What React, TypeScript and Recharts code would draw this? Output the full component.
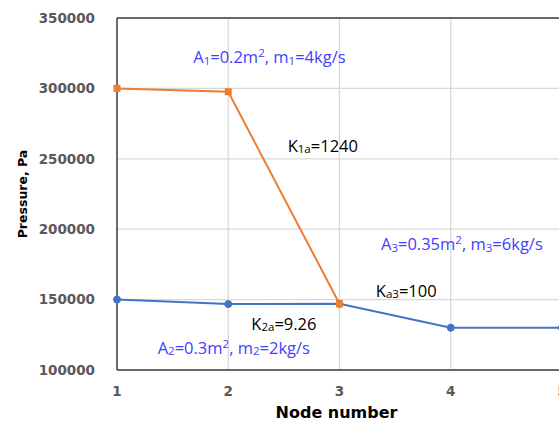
import { LineChart, Line, XAxis, YAxis, CartesianGrid, ReferenceLine, ReferenceDot } from "recharts";

const nodes = [1, 2, 3, 4, 5];
const highPressure = [300000, 297600, 147000, null, null];
const lowPressure = [150000, 146800, 147000, 130000, 130000];
const yTicks = [100000, 150000, 200000, 250000, 300000, 350000];

// annotation text: _{..} = subscript, ^{..} = superscript
const noteText = [
  "A_{1}=0.2m^{2}, m_{1}=4kg/s",
  "K_{1a}=1240",
  "A_{3}=0.35m^{2}, m_{3}=6kg/s",
  "K_{a3}=100",
  "K_{2a}=9.26",
  "A_{2}=0.3m^{2}, m_{2}=2kg/s",
];
const noteNode = [2.37, 2.85, 4.1, 3.6, 2.5, 2.05];
const notePressure = [323000, 260000, 190000, 157000, 133600, 116600];
const noteColor = ["#3f3fff", "#000000", "#3f3fff", "#000000", "#000000", "#3f3fff"];

const data = nodes.map((n, i) => ({ node: n, high: highPressure[i], low: lowPressure[i] }));

const ORANGE = "#ED7D31";
const BLUE = "#4472C4";
const AXIS = "#404040";
const TICK_FONT = "'DejaVu Sans', Verdana, sans-serif";
const NOTE_FONT = "'Open Sans', 'Liberation Sans', sans-serif";
const NOTE_SIZE = 16.5;

function parseParts(s: string) {
  const parts: { t: string; kind: "n" | "sub" | "sup" }[] = [];
  let i = 0;
  let buf = "";
  while (i < s.length) {
    const c = s[i];
    if ((c === "_" || c === "^") && s[i + 1] === "{") {
      if (buf) parts.push({ t: buf, kind: "n" });
      buf = "";
      const end = s.indexOf("}", i);
      parts.push({ t: s.slice(i + 2, end), kind: c === "_" ? "sub" : "sup" });
      i = end + 1;
    } else {
      buf += c;
      i++;
    }
  }
  if (buf) parts.push({ t: buf, kind: "n" });
  return parts;
}

function NoteLabel({ viewBox, text, color }: any) {
  if (!viewBox) return null;
  const cx = viewBox.x + viewBox.width / 2;
  const cy = viewBox.y + viewBox.height / 2;
  const parts = parseParts(text);
  let shift = 0;
  return (
    <text x={cx} y={cy} textAnchor="middle" dominantBaseline="central" fill={color} fontFamily={NOTE_FONT} fontSize={NOTE_SIZE}>
      {parts.map((p, i) => {
        const target = p.kind === "sub" ? 3.5 : p.kind === "sup" ? -4 : 0;
        const dy = target - shift;
        shift = target;
        return (
          <tspan key={i} dy={dy} fontSize={p.kind === "n" ? NOTE_SIZE : 11.5}>
            {p.t}
          </tspan>
        );
      })}
    </text>
  );
}

function YTitle({ viewBox }: any) {
  if (!viewBox) return null;
  const x = viewBox.x + 22;
  const y = viewBox.y + viewBox.height / 2;
  return (
    <text x={x} y={y} transform={`rotate(-90, ${x}, ${y})`} textAnchor="middle" dominantBaseline="central" fontFamily={TICK_FONT} fontWeight="bold" fontSize={12.5} fill="#000">
      Pressure, Pa
    </text>
  );
}

function XTitle({ viewBox }: any) {
  if (!viewBox) return null;
  return (
    <text x={viewBox.x + viewBox.width / 2 - 3} y={viewBox.y + 42} textAnchor="middle" dominantBaseline="central" fontFamily={TICK_FONT} fontWeight="bold" fontSize={16} fill="#000">
      Node number
    </text>
  );
}

function SquareDot({ cx, cy }: any) {
  if (cx == null || cy == null) return null;
  return <rect x={cx - 3.5} y={cy - 3.5} width={7} height={7} fill={ORANGE} />;
}

export default function App() {
  const tickStyle = { fill: "#595959", fontFamily: TICK_FONT, fontWeight: "bold", fontSize: 13.5 };
  return (
    <div style={{ position: "absolute", left: 0, top: 0, width: 559, height: 421, overflow: "hidden", background: "#fff" }}>
      <LineChart width={585} height={421} data={data} margin={{ top: 18, right: 23, left: 0, bottom: 0 }}>
        <CartesianGrid stroke="#d9d9d9" strokeWidth={1.3} />
        <XAxis
          dataKey="node"
          type="number"
          domain={[1, 5]}
          ticks={nodes}
          height={51}
          axisLine={{ stroke: AXIS, strokeWidth: 1.5 }}
          tickLine={false}
          tickSize={0}
          tickMargin={16}
          tick={tickStyle}
          label={<XTitle />}
        />
        <YAxis
          type="number"
          domain={[100000, 350000]}
          ticks={yTicks}
          width={117}
          axisLine={{ stroke: AXIS, strokeWidth: 1.5 }}
          tickLine={false}
          tickSize={0}
          tickMargin={22}
          tick={tickStyle}
          label={<YTitle />}
        />
        <ReferenceLine y={350000} stroke={AXIS} strokeWidth={1.5} />
        <Line dataKey="low" stroke={BLUE} strokeWidth={2} dot={{ r: 3.5, fill: BLUE, stroke: BLUE, strokeWidth: 1 }} isAnimationActive={false} />
        <Line dataKey="high" stroke={ORANGE} strokeWidth={2} dot={<SquareDot />} connectNulls={false} isAnimationActive={false} />
        {noteText.map((t, i) => (
          <ReferenceDot
            key={i}
            x={noteNode[i]}
            y={notePressure[i]}
            r={1}
            fill="none"
            stroke="none"
            label={<NoteLabel text={t} color={noteColor[i]} />}
          />
        ))}
      </LineChart>
    </div>
  );
}
